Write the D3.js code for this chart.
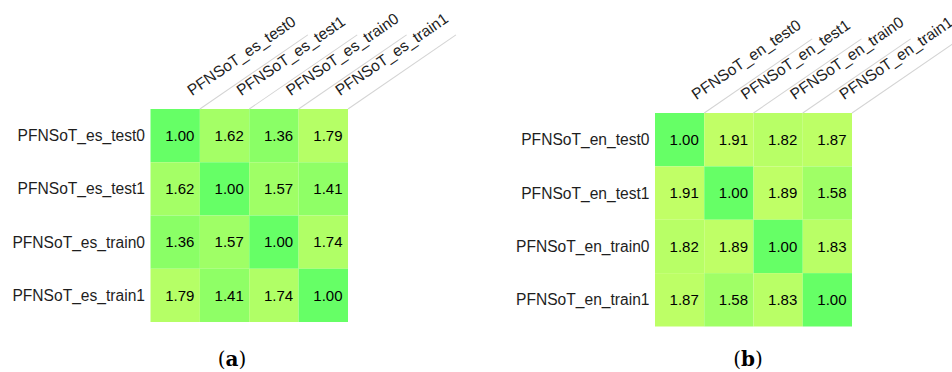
<!DOCTYPE html>
<html>
<head>
<meta charset="utf-8">
<script src="https://cdn.jsdelivr.net/npm/d3@7"></script>
<style>
  html, body { margin: 0; padding: 0; background: #fff; }
  svg { display: block; }
</style>
</head>
<body>
<svg id="chart" width="952" height="372"></svg>
<script>
// Pairwise distance matrices between dataset splits
const esLabels = ["PFNSoT_es_test0", "PFNSoT_es_test1", "PFNSoT_es_train0", "PFNSoT_es_train1"];
const esValues = [
  [1.00, 1.62, 1.36, 1.79],
  [1.62, 1.00, 1.57, 1.41],
  [1.36, 1.57, 1.00, 1.74],
  [1.79, 1.41, 1.74, 1.00]
];
const enLabels = ["PFNSoT_en_test0", "PFNSoT_en_test1", "PFNSoT_en_train0", "PFNSoT_en_train1"];
const enValues = [
  [1.00, 1.91, 1.82, 1.87],
  [1.91, 1.00, 1.89, 1.58],
  [1.82, 1.89, 1.00, 1.83],
  [1.87, 1.58, 1.83, 1.00]
];
const captions = ["(a)", "(b)"];

const svg = d3.select("#chart");
const color = d3.scaleLinear().domain([1, 2]).range(["#66ff66", "#caff66"]);
const ANGLE = -34.5;

function heatmap(labels, values, box, caption) {
  const x = d3.scaleBand().domain(labels).range([box.x0, box.x1]);
  const y = d3.scaleBand().domain(labels).range([box.y0, box.y1]);
  const g = svg.append("g");

  const cells = values.flatMap((row, i) => row.map((v, j) => ({ r: labels[i], c: labels[j], v })));

  g.selectAll("rect.cell").data(cells).join("rect")
    .attr("class", "cell")
    .attr("x", d => x(d.c))
    .attr("y", d => y(d.r))
    .attr("width", x.bandwidth())
    .attr("height", y.bandwidth())
    .attr("fill", d => color(d.v));

  g.selectAll("text.val").data(cells).join("text")
    .attr("class", "val")
    .attr("x", d => x(d.c) + x.bandwidth() - 5.5)
    .attr("y", d => y(d.r) + y.bandwidth() / 2)
    .attr("dy", "0.35em")
    .attr("text-anchor", "end")
    .attr("font-family", "Liberation Sans, Arial, sans-serif")
    .attr("font-size", 15)
    .attr("fill", "#000")
    .text(d => d3.format(".2f")(d.v));

  // row labels
  g.selectAll("text.row").data(labels).join("text")
    .attr("class", "row")
    .attr("x", box.x0 - 5.5)
    .attr("y", d => y(d) + y.bandwidth() / 2)
    .attr("dy", "0.35em")
    .attr("text-anchor", "end")
    .attr("font-family", "Liberation Sans, Arial, sans-serif")
    .attr("font-size", 15.6)
    .attr("fill", "#1e1e1e")
    .text(d => d);

  // slanted column separators
  g.selectAll("line.sep").data(labels).join("line")
    .attr("class", "sep")
    .attr("transform", d => `translate(${x(d) + x.bandwidth()},${box.y0}) rotate(${ANGLE})`)
    .attr("x1", 0).attr("y1", 0)
    .attr("x2", 131).attr("y2", 0)
    .attr("stroke", "#d4d4d4")
    .attr("stroke-width", 1);

  // slanted column labels
  g.selectAll("text.col").data(labels).join("text")
    .attr("class", "col")
    .attr("transform", d => `translate(${x(d) + x.bandwidth() / 2},${box.y0}) rotate(${ANGLE})`)
    .attr("x", 21)
    .attr("y", -1)
    .attr("font-family", "Liberation Sans, Arial, sans-serif")
    .attr("font-size", 15.6)
    .attr("fill", "#1e1e1e")
    .text(d => d);

  // sub-figure caption
  const cap = svg.append("text")
    .attr("x", box.capX)
    .attr("y", 366)
    .attr("text-anchor", "middle")
    .attr("font-family", "DejaVu Serif, Liberation Serif, serif")
    .attr("font-size", 20)
    .attr("fill", "#000");
  cap.append("tspan").text(caption[0]);
  cap.append("tspan").attr("font-weight", "bold").text(caption.slice(1, -1));
  cap.append("tspan").text(caption.slice(-1));
}

heatmap(esLabels, esValues, { x0: 150.5, x1: 348, y0: 109, y1: 322, capX: 232 }, captions[0]);
heatmap(enLabels, enValues, { x0: 655, x1: 852, y0: 113, y1: 326.5, capX: 748 }, captions[1]);
</script>
</body>
</html>
